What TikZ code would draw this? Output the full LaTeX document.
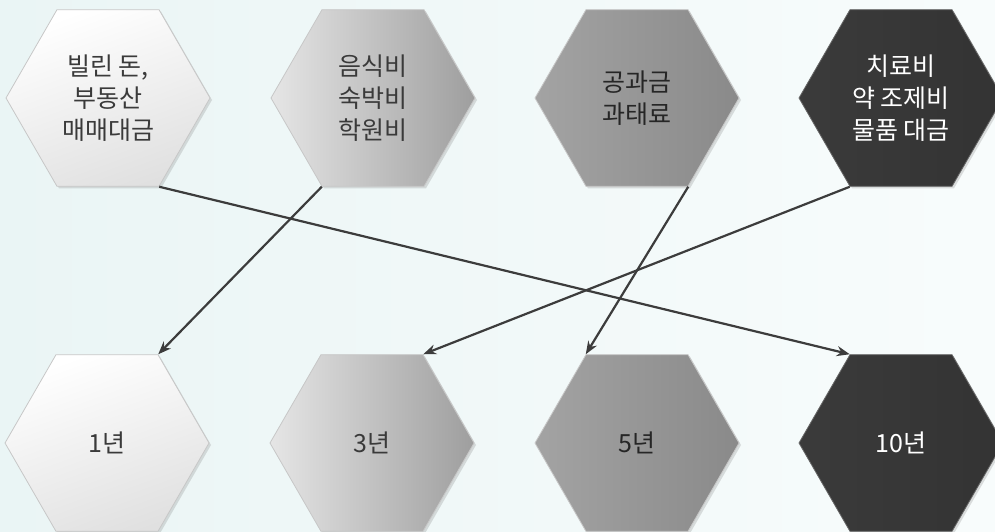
\documentclass[tikz,border=0pt]{standalone}
\usepackage{fontspec}
\newfontfamily\kr{Noto Sans CJK KR}
\usetikzlibrary{shapes.geometric,arrows.meta,shadows}
\definecolor{bgA}{HTML}{EAF5F5}
\definecolor{bgB}{HTML}{F8FCFC}
\definecolor{txtD}{HTML}{3A3A3A}
\definecolor{arr}{HTML}{3C3C3C}
\tikzset{
  hexa/.style={regular polygon, regular polygon sides=6, minimum size=204pt, inner sep=0pt,
    draw=black!22, line width=0.8pt, font=\kr\fontsize{25}{32}\selectfont, align=center,
    drop shadow={shadow xshift=2pt, shadow yshift=-2pt, opacity=0.25}},
  hexA/.style={hexa, top color=white, bottom color=black!12, shading angle=20, text=txtD},
  hexB/.style={hexa, left color=black!10, right color=black!38, text=txtD},
  hexC/.style={hexa, left color=black!36, right color=black!46, text=black!85},
  hexD/.style={hexa, left color=black!77, right color=black!80, draw=black!60, text=white},
  yr/.style={font=\kr\fontsize{25}{30}\selectfont},
  link/.style={draw=arr, line width=2.2pt, -{Stealth[length=13pt,width=10pt]}}
}
\begin{document}
\begin{tikzpicture}[x=1pt,y=1pt]
\useasboundingbox (0,0) rectangle (995,531);
\clip (0,0) rectangle (995,531);
\shade[left color=bgA, right color=bgB] (0,0) rectangle (995,531);
\node[hexA] (t1) at (108,433) {빌린 돈,\\부동산\\매매대금};
\node[hexB] (t2) at (373,433) {음식비\\숙박비\\학원비};
\node[hexC] (t3) at (637,433) {공과금\\과태료};
\node[hexD] (t4) at (901,433) {치료비\\약 조제비\\물품 대금};
\node[hexA, yr] (b1) at (107,88) {1년};
\node[hexB, yr] (b2) at (372,88) {3년};
\node[hexC, yr] (b3) at (637,88) {5년};
\node[hexD, yr] (b4) at (901,88) {10년};
\draw[link] (t1.-60) -- (b4.120);
\draw[link] (t2.-120) -- (b1.60);
\draw[link] (t3.-60) -- (b3.120);
\draw[link] (t4.-120) -- (b2.60);
\end{tikzpicture}
\end{document}
